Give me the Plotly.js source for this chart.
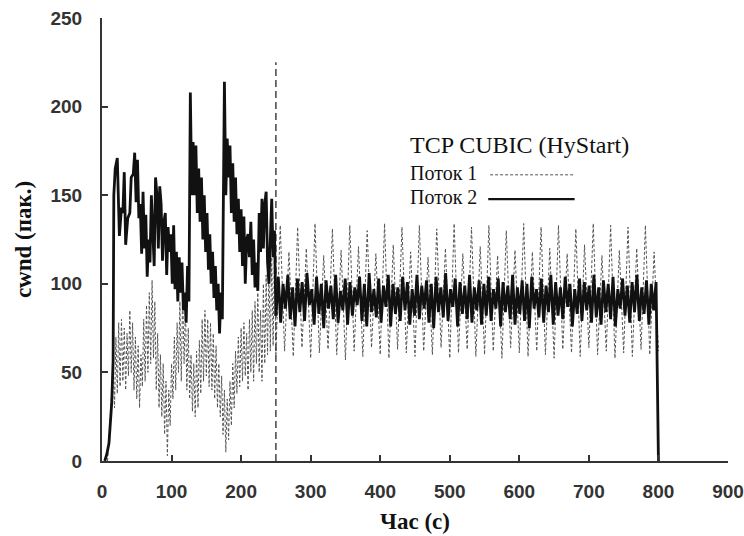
<!DOCTYPE html>
<html>
<head>
<meta charset="utf-8">
<script src="https://cdn.plot.ly/plotly-3.0.1.min.js"></script>
<style>html,body{margin:0;padding:0;background:#fff;}#chart{width:744px;height:536px;}</style>
</head>
<body>
<div id="chart"></div>
<script>
// ---- data ----
const xTicks = [0, 100, 200, 300, 400, 500, 600, 700, 800, 900];
const yTicks = [0, 50, 100, 150, 200, 250];

// Flow 1 (Поток 1), first phase, sampled every 2 s from t = 8 s
const flow1_phase1_start = 8;
const flow1_phase1_step = 2;
const flow1_phase1 = [
  0, 10, 25, 40, 55, 30, 70, 38, 78, 42,
  80, 45, 75, 40, 72, 48, 85, 50, 78, 40,
  70, 35, 65, 30, 60, 42, 80, 45, 88, 50,
  95, 55, 102, 58, 90, 40, 72, 30, 60, 25,
  55, 15, 45, 3, 40, 20, 55, 35, 70, 40,
  78, 50, 90, 45, 95, 55, 88, 40, 75, 35,
  60, 28, 55, 25, 62, 30, 68, 38, 80, 45,
  85, 48, 80, 42, 78, 40, 72, 35, 65, 30,
  55, 25, 48, 15, 40, 5, 35, 12, 45, 20,
  55, 30, 62, 38, 70, 42, 75, 45, 78, 48,
  72, 40, 80, 50, 85, 45, 90, 55, 95, 50,
  85, 45, 100, 55, 105, 60, 110, 62, 115, 65,
  120, 60
];
// Flow 1, second phase, sampled every 6.25 s from t = 250 s
const flow1_phase2_start = 250;
const flow1_phase2_step = 6.25;
const flow1_phase2 = [
  60, 133, 62, 118, 59, 132, 64, 120, 58, 134, 61, 116, 63, 131, 60, 119, 57, 133, 62, 121,
  59, 130, 64, 117, 60, 134, 58, 122, 63, 132, 61, 118, 59, 133, 62, 115, 60, 131, 64, 120,
  58, 134, 61, 117, 63, 132, 59, 121, 60, 133, 62, 116, 58, 130, 64, 119, 61, 134, 59, 118,
  62, 132, 60, 120, 58, 133, 63, 117, 61, 131, 59, 122, 64, 134, 60, 116, 62, 133, 58, 119,
  61, 132, 59, 120, 63, 133, 60, 118, 62
];

// Flow 2 (Поток 2), first phase
const flow2_phase1_t = [
  4, 7, 10, 12, 14, 16, 17, 19, 22, 25,
  28, 30, 32, 34, 37, 40, 42, 45, 47, 49,
  51, 53, 55, 57, 59, 61, 63, 65, 67, 69, 71, 73, 75, 77, 79, 81, 83, 85, 87, 89,
  91, 93, 95, 97, 99, 101, 103, 105, 107, 109, 111, 113, 115, 117, 119, 121, 123, 125, 127, 129,
  131, 133, 135, 137, 139, 141, 143, 145, 147, 149, 151, 153, 155, 157, 159, 161, 163, 165, 167, 169,
  171, 173, 176, 178, 180, 182, 184, 186, 188, 190, 192, 194, 196, 198, 200, 202, 204, 206, 208, 210,
  212, 214, 216, 218, 220, 222, 224, 226, 228, 230, 232, 234, 236, 238, 240, 242, 244, 246, 248, 250
];
const flow2_phase1 = [
  0, 4, 10, 20, 33, 57, 150, 165, 171, 127,
  143, 140, 163, 122, 137, 140, 160, 162, 174, 146,
  170, 137, 145, 117, 152, 120, 139, 104, 125, 112,
  150, 130, 110, 160, 150, 120, 155, 145, 113, 135,
  140, 105, 132, 118, 128, 100, 133, 97, 118, 90,
  115, 95, 112, 85, 95, 78, 110, 90, 208, 150,
  180, 150, 178, 140, 165, 135, 160, 125, 150, 118,
  140, 108, 128, 100, 118, 92, 110, 85, 100, 72,
  95, 80, 214, 150, 182, 160, 178, 140, 168, 135,
  160, 128, 148, 118, 142, 110, 138, 100, 125, 128,
  115, 135, 105, 125, 98, 112, 96, 140, 118, 148,
  120, 145, 152, 112, 100, 125, 148, 115, 130, 82
];
// Flow 2, second phase, sampled every 3.4375 s from t = 250 s
const flow2_phase2_start = 250;
const flow2_phase2_step = 3.4375;
const flow2_phase2 = [
  82, 104, 78, 100, 86, 105, 80, 98, 76, 103, 84, 101, 79, 106, 88, 97, 77, 104, 83, 100,
  75, 102, 86, 99, 80, 105, 78, 96, 85, 103, 77, 101, 82, 98, 88, 104, 79, 100, 76, 106,
  84, 97, 81, 103, 78, 99, 87, 105, 76, 100, 83, 98, 79, 104, 85, 101, 77, 97, 82, 105,
  80, 99, 86, 102, 78, 100, 75, 104, 84, 98, 81, 106, 79, 97, 87, 103, 76, 101, 83, 99,
  80, 105, 78, 98, 85, 102, 77, 100, 82, 104, 79, 97, 86, 103, 76, 101, 84, 99, 80, 105,
  77, 98, 83, 102, 79, 100, 75, 104, 86, 97, 81, 103, 78, 99, 84, 105, 77, 101, 82, 98,
  80, 104, 87, 100, 76, 97, 83, 103, 79, 101, 85, 99, 78, 105, 81, 98, 77, 102, 84, 100,
  80, 104, 76, 97, 86, 103, 82, 99, 78, 101, 84, 105, 79, 98, 83, 102, 77, 100, 85, 101,
  0
];

// vertical dashed marker (end of HyStart phase)
const marker_t = [250, 250];
const marker_cwnd = [0, 225];

const legendTitle = 'TCP CUBIC (HyStart)';
const seriesNames = ['Поток 1', 'Поток 2'];

// ---- styles ----
const greyLine = {color: '#555555', width: 1, dash: '3px,2px'};
const blackLine = {color: '#111111', width: 2.8};

const traces = [
  {type: 'scatter', mode: 'lines', x0: flow1_phase1_start, dx: flow1_phase1_step, y: flow1_phase1,
   line: greyLine, showlegend: false, hoverinfo: 'skip'},
  {type: 'scatter', mode: 'lines', x0: flow1_phase2_start, dx: flow1_phase2_step, y: flow1_phase2,
   line: greyLine, showlegend: false, hoverinfo: 'skip'},
  {type: 'scatter', mode: 'lines', x: marker_t, y: marker_cwnd,
   line: {color: '#444', width: 1.5, dash: '7px,4px'}, showlegend: false, hoverinfo: 'skip'},
  {type: 'scatter', mode: 'lines', x: flow2_phase1_t, y: flow2_phase1,
   line: blackLine, showlegend: false, hoverinfo: 'skip'},
  {type: 'scatter', mode: 'lines', x0: flow2_phase2_start, dx: flow2_phase2_step, y: flow2_phase2,
   line: blackLine, showlegend: false, hoverinfo: 'skip'}
];

const tickFont = {family: '"Liberation Sans", Arial, sans-serif', size: 19, color: '#333', weight: 'bold'};
const titleFont = {family: '"Liberation Serif", "Times New Roman", serif', size: 23, color: '#111', weight: 'bold'};
const legFont = {family: '"Liberation Serif", "Times New Roman", serif', color: '#111'};

const layout = {
  width: 744, height: 536,
  margin: {l: 102, r: 16, t: 18, b: 75},
  paper_bgcolor: '#fff', plot_bgcolor: '#fff',
  showlegend: false,
  xaxis: {
    range: [0, 900], tickvals: xTicks, ticktext: xTicks.map(String),
    showline: true, linecolor: '#333', linewidth: 2,
    ticks: 'inside', ticklen: 6, tickwidth: 2, tickcolor: '#333',
    showgrid: false, zeroline: false, tickfont: tickFont, ticklabelstandoff: 12,
    title: {text: 'Час (с)', font: titleFont, standoff: 12}
  },
  yaxis: {
    range: [0, 250], tickvals: yTicks, ticktext: yTicks.map(String),
    showline: true, linecolor: '#333', linewidth: 2,
    ticks: 'inside', ticklen: 6, tickwidth: 2, tickcolor: '#333',
    showgrid: false, zeroline: false, tickfont: tickFont, ticklabelstandoff: 14,
    title: {text: 'cwnd (пак.)', font: titleFont, standoff: 12}
  },
  annotations: [
    {xref: 'paper', yref: 'paper', x: 0.489, y: 0.714, xanchor: 'left', yanchor: 'middle',
     text: legendTitle, showarrow: false, font: Object.assign({size: 24}, legFont)},
    {xref: 'paper', yref: 'paper', x: 0.489, y: 0.649, xanchor: 'left', yanchor: 'middle',
     text: seriesNames[0], showarrow: false, font: Object.assign({size: 20}, legFont)},
    {xref: 'paper', yref: 'paper', x: 0.489, y: 0.597, xanchor: 'left', yanchor: 'middle',
     text: seriesNames[1], showarrow: false, font: Object.assign({size: 20}, legFont)}
  ],
  shapes: [
    {type: 'line', xref: 'paper', yref: 'paper', x0: 0.620, x1: 0.755, y0: 0.646, y1: 0.646,
     line: {color: '#555', width: 1, dash: '3px,2px'}},
    {type: 'line', xref: 'paper', yref: 'paper', x0: 0.617, x1: 0.755, y0: 0.591, y1: 0.591,
     line: {color: '#111', width: 2.2}}
  ]
};

Plotly.newPlot('chart', traces, layout, {displayModeBar: false, staticPlot: true});
</script>
</body>
</html>
